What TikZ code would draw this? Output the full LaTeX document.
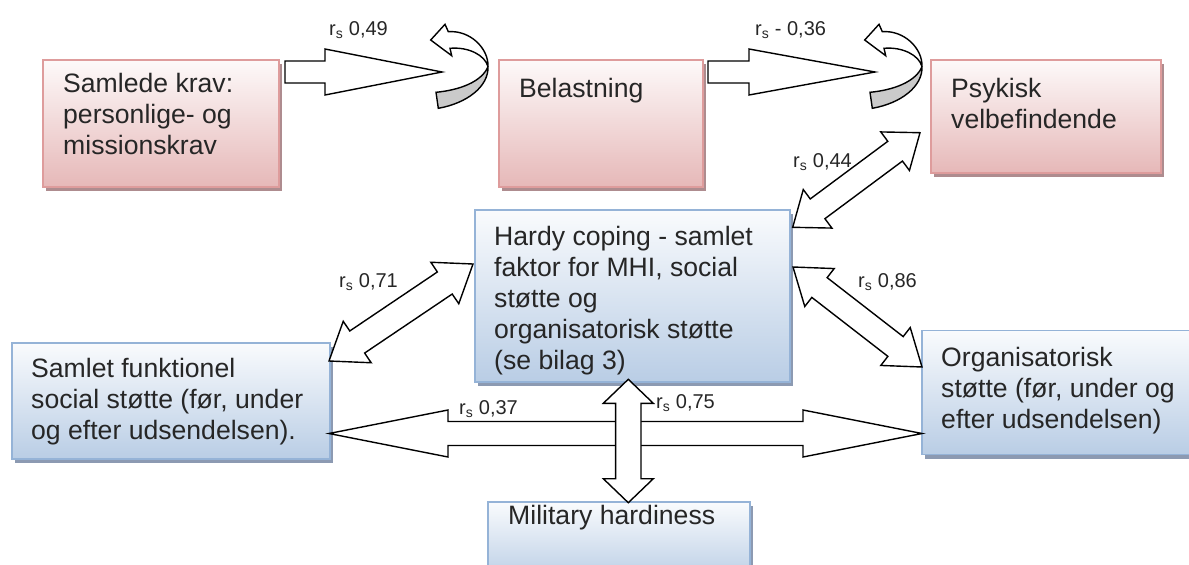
\documentclass[tikz,border=0pt]{standalone}
\usepackage{fontspec}
\setmainfont{Liberation Sans}
\usetikzlibrary{calc,shadows}
\definecolor{pinkB}{HTML}{DE9C9C}
\definecolor{pinkF}{HTML}{E6B8B8}
\definecolor{pinkS}{HTML}{AE8C8F}
\definecolor{blueB}{HTML}{95B3D7}
\definecolor{blueF}{HTML}{B9CDE5}
\definecolor{blueS}{HTML}{8C9AB2}
\definecolor{curlgrey}{HTML}{CACACA}
\newcommand{\blocksgl}[5]{%
  \path ($(#1)!#3!(#2)$) coordinate (hbA);
  \draw[blockarrow] ($(#1)!#5!90:(#2)$) -- ($(hbA)!#5!90:(#2)$) -- ($(hbA)!#4!90:(#2)$) -- (#2)
    -- ($(hbA)!#4!-90:(#2)$) -- ($(hbA)!#5!-90:(#2)$) -- ($(#1)!#5!-90:(#2)$) -- cycle;}
\newcommand{\blockdbl}[5]{%
  \path ($(#1)!#3!(#2)$) coordinate (hbA) ($(#2)!#3!(#1)$) coordinate (hbB);
  \draw[blockarrow] (#1) -- ($(hbA)!#4!90:(#2)$) -- ($(hbA)!#5!90:(#2)$) -- ($(hbB)!#5!90:(#2)$)
    -- ($(hbB)!#4!90:(#2)$) -- (#2) -- ($(hbB)!#4!-90:(#2)$) -- ($(hbB)!#5!-90:(#2)$)
    -- ($(hbA)!#5!-90:(#2)$) -- ($(hbA)!#4!-90:(#2)$) -- cycle;}
\newcommand{\curlarrow}[1]{%
  \begin{scope}[shift={(#1,0)}]
    \fill[white] (438.3,108.3) .. controls (466.7,103.3) and (488.7,86.7) .. (488,66.7)
      .. controls (488.7,48.3) and (470,30) .. (448.3,31.7)
      -- (445,24.3) -- (430.7,40) -- (451.7,55.7) -- (450,48.3)
      .. controls (468.3,46.7) and (485,55) .. (488,66.7)
      .. controls (481.7,81.7) and (460,90) .. (436,92.3) -- cycle;
    \fill[curlgrey] (488,66.7) .. controls (481.7,81.7) and (460,90) .. (436,92.3)
      -- (438.3,108.3) .. controls (466.7,103.3) and (488.7,86.7) .. (488,66.7) -- cycle;
    \draw[curlline] (438.3,108.3) .. controls (466.7,103.3) and (488.7,86.7) .. (488,66.7)
      .. controls (488.7,48.3) and (470,30) .. (448.3,31.7)
      -- (445,24.3) -- (430.7,40) -- (451.7,55.7) -- (450,48.3)
      .. controls (468.3,46.7) and (485,55) .. (488,66.7)
      .. controls (481.7,81.7) and (460,90) .. (436,92.3) -- cycle;
  \end{scope}}
\tikzset{
  pinkbox/.style={draw=pinkB, line width=1.8pt, top color=pinkF!8, bottom color=pinkF,
    inner sep=0pt, drop shadow={shadow xshift=3pt, shadow yshift=-4pt, fill=pinkS, opacity=1}},
  bluebox/.style={draw=blueB, line width=1.8pt, top color=blueF!8, bottom color=blueF,
    inner sep=0pt, drop shadow={shadow xshift=3pt, shadow yshift=-4pt, fill=blueS, opacity=1}},
  boxtext/.style={anchor=north west, inner sep=0pt, align=left, text=black!85,
    font=\fontsize{26.6}{31}\selectfont},
  rlabel/.style={anchor=base west, inner sep=0pt, text=black!85, font=\fontsize{20}{24}\selectfont},
  blockarrow/.style={draw=black, fill=white, line width=1.4pt, line join=miter},
  curlline/.style={draw=black, line width=1.4pt, line join=miter}
}
\begin{document}
\begin{tikzpicture}[x=1pt, y=-1pt]
\useasboundingbox (0,0) rectangle (1189,565);
\clip (0,0) rectangle (1189,565);
% boxes
\node[pinkbox, minimum width=236pt, minimum height=127pt] (b1) at (161,123.5) {};
\node[pinkbox, minimum width=204pt, minimum height=127pt] (b2) at (601,123.5) {};
\node[pinkbox, minimum width=230pt, minimum height=113pt] (b3) at (1046,116.5) {};
\node[bluebox, minimum width=315pt, minimum height=172pt] (b4) at (632.5,296) {};
\node[bluebox, minimum width=318pt, minimum height=116pt] (b5) at (171,401) {};
\node[bluebox, minimum width=275pt, minimum height=124pt] (b6) at (1059.5,392.5) {};
\node[bluebox, minimum width=262pt, minimum height=80pt] (b7) at (619,542) {};
% box texts
\node[boxtext] (t1) at (63,73) {Samlede krav:\\personlige- og\\missionskrav};
\node[boxtext] (t2) at (519,78) {Belastning};
\node[boxtext] (t3) at (951,78) {Psykisk\\velbefindende};
\node[boxtext] (t4) at (494,226) {Hardy coping - samlet\\faktor for MHI, social\\støtte og\\organisatorisk støtte\\(se bilag 3)};
\node[boxtext] (t5) at (31,358) {Samlet funktionel\\social støtte (før, under\\og efter udsendelsen).};
\node[boxtext] (t6) at (941,347) {Organisatorisk\\støtte (før, under og\\efter udsendelsen)};
\node[boxtext] (t7) at (508,505) {Military hardiness};
% connector end points
\coordinate (a1s) at (285,72);
\coordinate (a1e) at (442,72);
\coordinate (a2s) at (708,72);
\coordinate (a2e) at (875,72);
\coordinate (d44a) at (792.7,227.3);
\coordinate (d44b) at (920,132.7);
\coordinate (d71a) at (329,361);
\coordinate (d71b) at (473,264);
\coordinate (d86a) at (793,267);
\coordinate (d86b) at (922,367);
\coordinate (dha) at (329,433.5);
\coordinate (dhb) at (922,433.5);
\coordinate (dva) at (628.3,379.3);
\coordinate (dvb) at (628.3,502.7);
% arrows
\blocksgl{a1s}{a1e}{40pt}{23pt}{11pt}
\blocksgl{a2s}{a2e}{41pt}{23pt}{11pt}
\curlarrow{0}
\curlarrow{434}
\blockdbl{d44a}{d44b}{31pt}{24pt}{12.3pt}
\blockdbl{d71a}{d71b}{34pt}{25pt}{13.3pt}
\blockdbl{d86a}{d86b}{33.5pt}{24pt}{12.5pt}
\blockdbl{dha}{dhb}{119pt}{23.5pt}{12pt}
\blockdbl{dva}{dvb}{24pt}{25pt}{12.7pt}
% labels
\node[rlabel] (l49) at (329,35) {r\textsubscript{s} 0,49};
\node[rlabel] (l36) at (755,35) {r\textsubscript{s} - 0,36};
\node[rlabel] (l44) at (793,167) {r\textsubscript{s} 0,44};
\node[rlabel] (l71) at (339,287) {r\textsubscript{s} 0,71};
\node[rlabel] (l86) at (858,287) {r\textsubscript{s} 0,86};
\node[rlabel] (l37) at (459,414) {r\textsubscript{s} 0,37};
\node[rlabel] (l75) at (656,408) {r\textsubscript{s} 0,75};
\end{tikzpicture}
\end{document}
